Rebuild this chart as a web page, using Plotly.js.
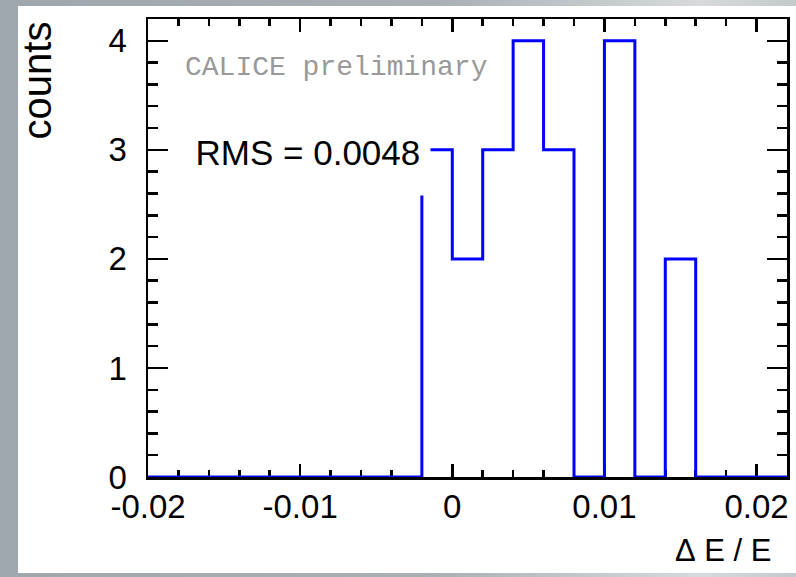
<!DOCTYPE html>
<html>
<head>
<meta charset="utf-8">
<script src="https://cdn.plot.ly/plotly-3.0.1.min.js"></script>
<style>
  html, body { margin:0; padding:0; width:796px; height:577px; overflow:hidden;
    background: linear-gradient(to right, #9ea7ad 0%, #a9b0b4 55%, #d6dadc 88%, #c4c9cc 100%); }
  #paper { position:absolute; left:18px; top:6px; width:778px; height:567px; background:#ffffff; }
  #chart { position:absolute; left:0; top:0; width:796px; height:577px; }
</style>
</head>
<body>
<div id="paper"></div>
<div id="chart"></div>
<script>
// Histogram bin edges (ΔE/E) and counts per bin
const binEdges = [-0.020, -0.018, -0.016, -0.014, -0.012, -0.010, -0.008, -0.006, -0.004, -0.002,
                  0.000, 0.002, 0.004, 0.006, 0.008, 0.010, 0.012, 0.014, 0.016, 0.018, 0.020, 0.022];
const counts = [0, 0, 0, 0, 0, 0, 0, 0, 0, 3,
                2, 3, 4, 3, 0, 4, 0, 2, 0, 0, 0];
const xTickVals = [-0.02, -0.01, 0, 0.01, 0.02];
const xTickText = ["-0.02", "-0.01", "0", "0.01", "0.02"];
const yTickVals = [0, 1, 2, 3, 4];
const yTickText = ["0", "1", "2", "3", "4"];
const xTitle = "\u0394\u00a0E\u00a0/\u00a0E";
const yTitle = "counts";
const rmsLabel = "RMS = 0.0048\u00a0";
const caliceLabel = "CALICE preliminary";

const stepY = counts.concat([counts[counts.length - 1]]);

const trace = {
  type: 'scatter', mode: 'lines',
  x: binEdges, y: stepY,
  line: { shape: 'hv', color: '#0000ff', width: 3 },
  cliponaxis: false, hoverinfo: 'skip', showlegend: false
};

const font = 'Liberation Sans, Arial, Helvetica, sans-serif';

const layout = {
  width: 796, height: 577,
  margin: { l: 148, r: 9, t: 19, b: 100, pad: 0 },
  paper_bgcolor: 'rgba(0,0,0,0)', plot_bgcolor: '#ffffff',
  showlegend: false,
  font: { family: font, color: '#000000', size: 33 },
  xaxis: {
    range: [-0.02, 0.022], autorange: false,
    showline: true, linecolor: '#000', linewidth: 2.5, mirror: 'ticks',
    ticks: 'inside', ticklen: 13, tickwidth: 2.5, tickcolor: '#000',
    tickvals: xTickVals, ticktext: xTickText,
    tickfont: { family: font, size: 33, color: '#000' },
    ticklabelstandoff: -1,
    minor: { dtick: 0.002, tick0: 0, ticks: 'inside', ticklen: 7, tickwidth: 2.5, tickcolor: '#000', showgrid: false },
    showgrid: false, zeroline: false, layer: 'below traces', fixedrange: true
  },
  yaxis: {
    range: [0, 4.2], autorange: false,
    showline: true, linecolor: '#000', linewidth: 2.5, mirror: 'ticks',
    ticks: 'inside', ticklen: 20, tickwidth: 2.5, tickcolor: '#000',
    tickvals: yTickVals, ticktext: yTickText,
    tickfont: { family: font, size: 33, color: '#000' },
    ticklabelstandoff: 12,
    minor: { dtick: 0.2, tick0: 0, ticks: 'inside', ticklen: 10, tickwidth: 2.5, tickcolor: '#000', showgrid: false },
    showgrid: false, zeroline: false, layer: 'below traces', fixedrange: true
  },
  annotations: [
    { text: yTitle, xref: 'paper', yref: 'paper', x: -0.173, y: 1.0,
      xanchor: 'center', yanchor: 'top', textangle: -90, showarrow: false,
      font: { family: font, size: 40, color: '#000' } },
    { text: xTitle, xref: 'paper', yref: 'paper', x: 0.98, y: -0.161,
      xanchor: 'right', yanchor: 'middle', showarrow: false,
      font: { family: font, size: 31, color: '#000' } },
    { text: caliceLabel, xref: 'paper', yref: 'paper', x: 0.0548, y: 0.895,
      xanchor: 'left', yanchor: 'middle', showarrow: false,
      font: { family: 'Liberation Mono, Courier New, monospace', size: 28, color: '#999999' } },
    { text: rmsLabel, xref: 'x', yref: 'y', x: -0.00143, y: 3.165,
      xanchor: 'right', yanchor: 'top', showarrow: false,
      width: 240, height: 62, align: 'right', valign: 'top', borderpad: 0,
      bgcolor: '#ffffff',
      font: { family: font, size: 35, color: '#000' } }
  ]
};

Plotly.newPlot('chart', [trace], layout, { staticPlot: true, displayModeBar: false });
</script>
</body>
</html>
